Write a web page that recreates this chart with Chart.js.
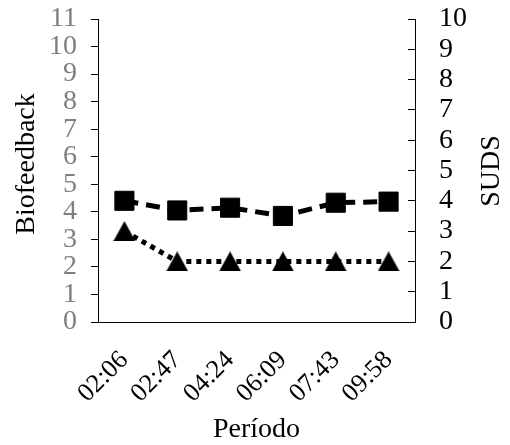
<!DOCTYPE html>
<html>
<head>
<meta charset="utf-8">
<script src="https://cdn.jsdelivr.net/npm/chart.js@4/dist/chart.umd.min.js"></script>
<style>
  html, body { margin: 0; padding: 0; background: #fff; }
  #wrap { width: 510px; height: 445px; position: relative; }
</style>
</head>
<body>
<div id="wrap"><canvas id="c" width="510" height="445"></canvas></div>
<script>
const categories = ['02:06', '02:47', '04:24', '06:09', '07:43', '09:58'];
const biofeedback = [4.4, 4.05, 4.15, 3.85, 4.33, 4.37];
const suds = [3, 2, 2, 2, 2, 2];
const leftTicks = [0, 1, 2, 3, 4, 5, 6, 7, 8, 9, 10, 11];
const rightTicks = [0, 1, 2, 3, 4, 5, 6, 7, 8, 9, 10];
const leftTitle = 'Biofeedback';
const rightTitle = 'SUDS';

const FONT = "'Liberation Serif', 'Times New Roman', serif";

function triangleImage(w, h) {
  const cv = document.createElement('canvas');
  cv.width = w; cv.height = h;
  const g = cv.getContext('2d');
  g.fillStyle = '#000';
  g.beginPath();
  g.moveTo(w / 2, 0);
  g.lineTo(w, h);
  g.lineTo(0, h);
  g.closePath();
  g.fill();
  return cv;
}
const tri = triangleImage(22, 20);

function drawVTitle(ctx, text, x, y) {
  ctx.save();
  ctx.translate(x, y);
  ctx.rotate(-Math.PI / 2);
  ctx.font = '28px ' + FONT;
  ctx.fillStyle = '#000';
  ctx.textAlign = 'center';
  ctx.textBaseline = 'middle';
  ctx.fillText(text, 0, 0);
  ctx.restore();
}

const yTitles = {
  id: 'yTitles',
  afterDraw(chart) {
    const ctx = chart.ctx;
    drawVTitle(ctx, leftTitle, 27, 164);
    drawVTitle(ctx, rightTitle, 492, 171);
  }
};

function noPad(s) {
  s.paddingTop = 0; s.paddingBottom = 0; s.paddingLeft = 0; s.paddingRight = 0;
}

new Chart(document.getElementById('c'), {
  type: 'line',
  data: {
    labels: categories,
    datasets: [
      {
        label: 'Biofeedback',
        data: biofeedback,
        yAxisID: 'y',
        borderColor: '#000',
        backgroundColor: '#000',
        borderWidth: 5,
        borderDash: [14, 8],
        pointStyle: 'rect',
        pointRadius: 13.5,
        pointBorderWidth: 1,
        pointBackgroundColor: '#000',
        pointBorderColor: '#000',
        tension: 0
      },
      {
        label: 'SUDS',
        data: suds,
        yAxisID: 'y2',
        borderColor: '#000',
        backgroundColor: '#000',
        borderWidth: 5,
        borderDash: [5, 5],
        pointStyle: tri,
        pointRadius: 11,
        tension: 0
      }
    ]
  },
  options: {
    responsive: false,
    animation: false,
    events: [],
    layout: { padding: { top: 19, left: 0, right: 0, bottom: 0 } },
    plugins: { legend: { display: false }, tooltip: { enabled: false } },
    scales: {
      x: {
        offset: true,
        grid: { display: false, drawTicks: false },
        border: { display: true, color: '#000', width: 1 },
        ticks: {
          color: '#000',
          font: { family: FONT, size: 26 },
          minRotation: 45,
          maxRotation: 45,
          autoSkip: false,
          padding: 23
        },
        title: {
          display: true,
          text: 'Período',
          color: '#000',
          font: { family: FONT, size: 28, lineHeight: 1 },
          padding: { top: 4, bottom: 1 }
        },
        afterFit(s) { s.height = 123; noPad(s); }
      },
      y: {
        position: 'left',
        min: 0,
        max: 11,
        afterBuildTicks(s) { s.ticks = leftTicks.map(v => ({ value: v })); },
        grid: { display: true, drawOnChartArea: false, drawTicks: true, tickLength: 7, color: '#000' },
        border: { display: true, color: '#000', width: 1 },
        ticks: {
          color: '#7f7f7f',
          font: { family: FONT, size: 28 },
          autoSkip: false,
          padding: 14
        },
        afterFit(s) { s.width = 98; noPad(s); }
      },
      y2: {
        position: 'right',
        min: 0,
        max: 10,
        afterBuildTicks(s) { s.ticks = rightTicks.map(v => ({ value: v })); },
        grid: { display: true, drawOnChartArea: false, drawTicks: true, tickLength: -7, color: '#000' },
        border: { display: true, color: '#000', width: 1 },
        ticks: {
          color: '#000',
          font: { family: FONT, size: 28 },
          autoSkip: false,
          padding: 31
        },
        afterFit(s) { s.width = 95; noPad(s); }
      }
    }
  },
  plugins: [yTitles]
});
</script>
</body>
</html>
